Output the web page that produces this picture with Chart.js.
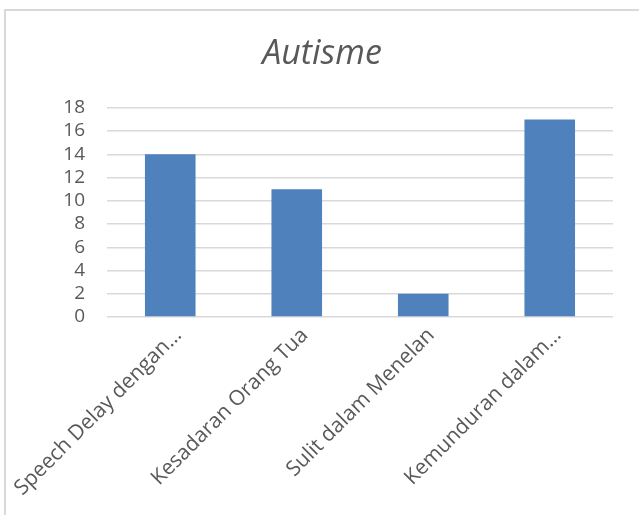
<!DOCTYPE html>
<html>
<head>
<meta charset="utf-8">
<script src="https://cdn.jsdelivr.net/npm/chart.js@4"></script>
<style>
    html, body { margin: 0; padding: 0; background: #fff; overflow: hidden; }
    #wrap { position: absolute; left: 0; top: 0; width: 639px; height: 515px; }
</style>
</head>
<body>
<div id="wrap"><canvas id="autismeChart"></canvas></div>
<script>
// Autisme bar chart, Excel look

const categories = ['Speech Delay dengan…', 'Kesadaran Orang Tua', 'Sulit dalam Menelan', 'Kemunduran dalam…'];
const values = [14, 11, 2, 17];
const yTicks = [0, 2, 4, 6, 8, 10, 12, 14, 16, 18];

const textColor = '#595959';
const fontFamily = '"Open Sans", "Liberation Sans", sans-serif';

// chart frame, cut off on the right and bottom like the screenshot
const framePlugin = {
    id: 'frame',
    beforeDraw(chart) {
        const c = chart.ctx;
        c.save();
        c.strokeStyle = '#d9d9d9';
        c.lineWidth = 2;
        c.beginPath();
        c.moveTo(5, chart.height);
        c.lineTo(5, 10);
        c.lineTo(chart.width, 10);
        c.stroke();
        c.restore();
    }
};

function createAutismeChart() {
    const ctx = document.getElementById('autismeChart').getContext('2d');
    return new Chart(ctx, {
        type: 'bar',
        data: {
            labels: categories,
            datasets: [{
                label: 'Autisme',
                data: values,
                backgroundColor: '#4f81bd',
                categoryPercentage: 1,
                barPercentage: 0.4
            }]
        },
        options: {
            responsive: true,
            maintainAspectRatio: false,
            animation: false,
            layout: { padding: { left: 5, top: 10, right: 0, bottom: 0 } },
            plugins: {
                legend: { display: false },
                tooltip: { enabled: false },
                title: {
                    display: true,
                    text: 'Autisme',
                    color: textColor,
                    font: { family: fontFamily, size: 34, style: 'italic', weight: 'normal', lineHeight: 1.2 },
                    padding: { top: 24, bottom: 33 }
                }
            },
            scales: {
                x: {
                    grid: { display: false },
                    border: { display: false },
                    ticks: {
                        color: textColor,
                        font: { family: fontFamily, size: 21 },
                        maxRotation: 45,
                        minRotation: 45,
                        autoSkip: false,
                        labelOffset: 8,
                        padding: -2
                    },
                    afterFit: scale => {
                        scale.height = 198;
                        scale.paddingLeft = 0;
                        scale.paddingRight = 0;
                    }
                },
                y: {
                    min: 0,
                    max: yTicks[yTicks.length - 1],
                    grid: { color: '#d9d9d9', lineWidth: 1.5, drawTicks: false },
                    border: { display: false },
                    afterBuildTicks: scale => { scale.ticks = yTicks.map(v => ({ value: v })); },
                    ticks: {
                        color: textColor,
                        font: { family: fontFamily, size: 19 },
                        autoSkip: false,
                        padding: 22
                    },
                    afterFit: scale => {
                        scale.width = 102;
                        scale.paddingTop = 0;
                        scale.paddingBottom = 0;
                    }
                },
                // empty right margin so the title centres over the whole frame
                yRight: {
                    type: 'linear',
                    position: 'right',
                    grid: { display: false },
                    border: { display: false },
                    ticks: { display: false },
                    afterFit: scale => { scale.width = 26; }
                }
            }
        },
        plugins: [framePlugin]
    });
}

createAutismeChart();
</script>
</body>
</html>
